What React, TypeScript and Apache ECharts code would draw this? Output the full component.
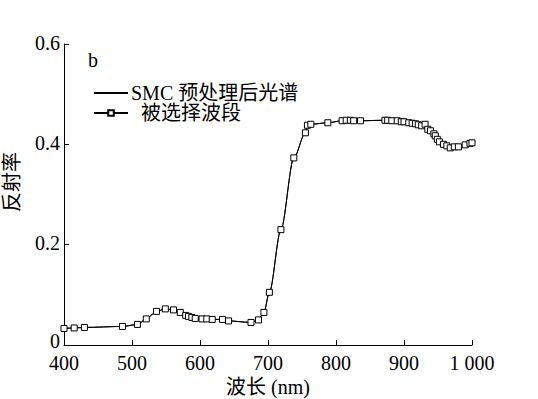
import React, { useEffect, useRef } from 'react';
import * as echarts from 'echarts';

const wavelengths = [
  400, 415, 430, 486, 508, 521, 536, 549, 561, 571, 579, 583, 588, 593, 603, 610, 618, 633, 642, 675,
  686, 694, 702, 719, 738, 755, 758, 763, 788, 809, 815, 821, 826, 836, 872, 876, 882, 890, 896, 900,
  907, 912, 917, 921, 926, 931, 935, 939, 944, 946, 949, 952, 958, 963, 968, 974, 980, 990, 997, 1000,
];
const reflectance = [
  0.033, 0.034, 0.035, 0.037, 0.041, 0.052, 0.067, 0.072, 0.070, 0.065, 0.059, 0.057, 0.055, 0.053, 0.052, 0.052, 0.051, 0.051, 0.048, 0.045,
  0.050, 0.065, 0.105, 0.230, 0.373, 0.423, 0.438, 0.440, 0.443, 0.447, 0.448, 0.448, 0.447, 0.447, 0.448, 0.448, 0.447, 0.447, 0.445, 0.445,
  0.443, 0.442, 0.441, 0.439, 0.437, 0.440, 0.430, 0.427, 0.421, 0.417, 0.410, 0.405, 0.400, 0.397, 0.393, 0.395, 0.395, 0.399, 0.402, 0.403,
];
const xTickValues = [400, 500, 600, 700, 800, 900, 1000];
const xTickLabels = ['400', '500', '600', '700', '800', '900', '1 000'];
const yTickValues = [0, 0.2, 0.4, 0.6];
const yTickLabels = ['0', '0.2', '0.4', '0.6'];
const seriesNames = ['SMC 预处理后光谱', '被选择波段'];
const panelLabel = 'b';
const xAxisTitle = '波长 (nm)';
const yAxisTitle = '反射率';

const FONT = '"Liberation Serif", "Noto Sans CJK SC", serif';

export default function App() {
  const ref = useRef<HTMLDivElement>(null);
  useEffect(() => {
    if (!ref.current) return;
    const chart = echarts.init(ref.current, undefined, { renderer: 'svg' });
    const pts = wavelengths.map((w, i) => [w, reflectance[i]]);
    chart.setOption({
      animation: false,
      backgroundColor: '#fff',
      grid: { left: 64, right: 66, top: 44, bottom: 54 },
      xAxis: {
        type: 'value',
        min: 400,
        max: 1000,
        interval: 100,
        axisLine: { lineStyle: { color: '#000', width: 1 } },
        axisTick: { inside: true, length: 5, lineStyle: { color: '#000' } },
        splitLine: { show: false },
        axisLabel: {
          color: '#000',
          fontFamily: FONT,
          fontSize: 20,
          lineHeight: 15,
          margin: 10,
          formatter: (v: number) => {
            const i = xTickValues.indexOf(v);
            return i >= 0 ? xTickLabels[i] : '';
          },
        },
      },
      yAxis: {
        type: 'value',
        min: 0,
        max: 0.6,
        interval: 0.2,
        axisLine: { show: true, lineStyle: { color: '#000', width: 1 } },
        axisTick: { show: true, inside: true, length: 5, lineStyle: { color: '#000' } },
        splitLine: { show: false },
        axisLabel: {
          color: '#000',
          fontFamily: FONT,
          fontSize: 20,
          lineHeight: 15,
          margin: 4,
          padding: [0, 0, 3, 0],
          formatter: (v: number) => {
            const i = yTickValues.findIndex((t) => Math.abs(t - v) < 1e-9);
            if (i < 0) return '';
            return i === 0 ? `{z|${yTickLabels[i]}}` : yTickLabels[i];
          },
          rich: {
            z: { fontFamily: FONT, fontSize: 20, lineHeight: 15, color: '#000', padding: [0, 0, 6, 0] },
          },
        },
      },
      legend: {
        orient: 'vertical',
        left: 88,
        top: 78,
        itemWidth: 34,
        itemHeight: 7,
        itemGap: 0,
        textStyle: { color: '#000', fontFamily: FONT, fontSize: 20, lineHeight: 20, padding: [0, 0, 0, -2] },
        formatter: (name: string) => (name === seriesNames[1] ? '\u2002' + name : name),
        data: [
          { name: seriesNames[0], itemStyle: { opacity: 0 } },
          { name: seriesNames[1] },
        ],
        selectedMode: false,
      },
      graphic: [
        {
          type: 'text',
          left: 88,
          top: 50,
          style: { text: panelLabel, font: `20px ${FONT}`, fill: '#000' },
        },
        {
          type: 'text',
          x: 268,
          y: 387,
          style: { text: xAxisTitle, font: `20px ${FONT}`, fill: '#000', align: 'center', verticalAlign: 'middle' },
        },
        {
          type: 'text',
          x: 12,
          y: 182,
          rotation: Math.PI / 2,
          style: { text: yAxisTitle, font: `20px ${FONT}`, fill: '#000', align: 'center', verticalAlign: 'middle' },
        },
      ],
      series: [
        {
          name: seriesNames[0],
          type: 'line',
          data: pts,
          symbol: 'none',
          smooth: 0.3,
          smoothMonotone: 'x',
          lineStyle: { color: '#000', width: 1 },
          itemStyle: { color: '#000' },
          z: 2,
        },
        {
          name: seriesNames[1],
          type: 'line',
          data: pts,
          symbol: 'rect',
          symbolSize: 6,
          smooth: 0.3,
          smoothMonotone: 'x',
          lineStyle: { color: '#000', width: 1 },
          itemStyle: { color: '#fff', borderColor: '#000', borderWidth: 1 },
          z: 3,
        },
      ],
    });
    return () => chart.dispose();
  }, []);
  return (
    <div
      ref={ref}
      style={{ position: 'absolute', left: 0, top: 0, width: 538, height: 399 }}
    />
  );
}
